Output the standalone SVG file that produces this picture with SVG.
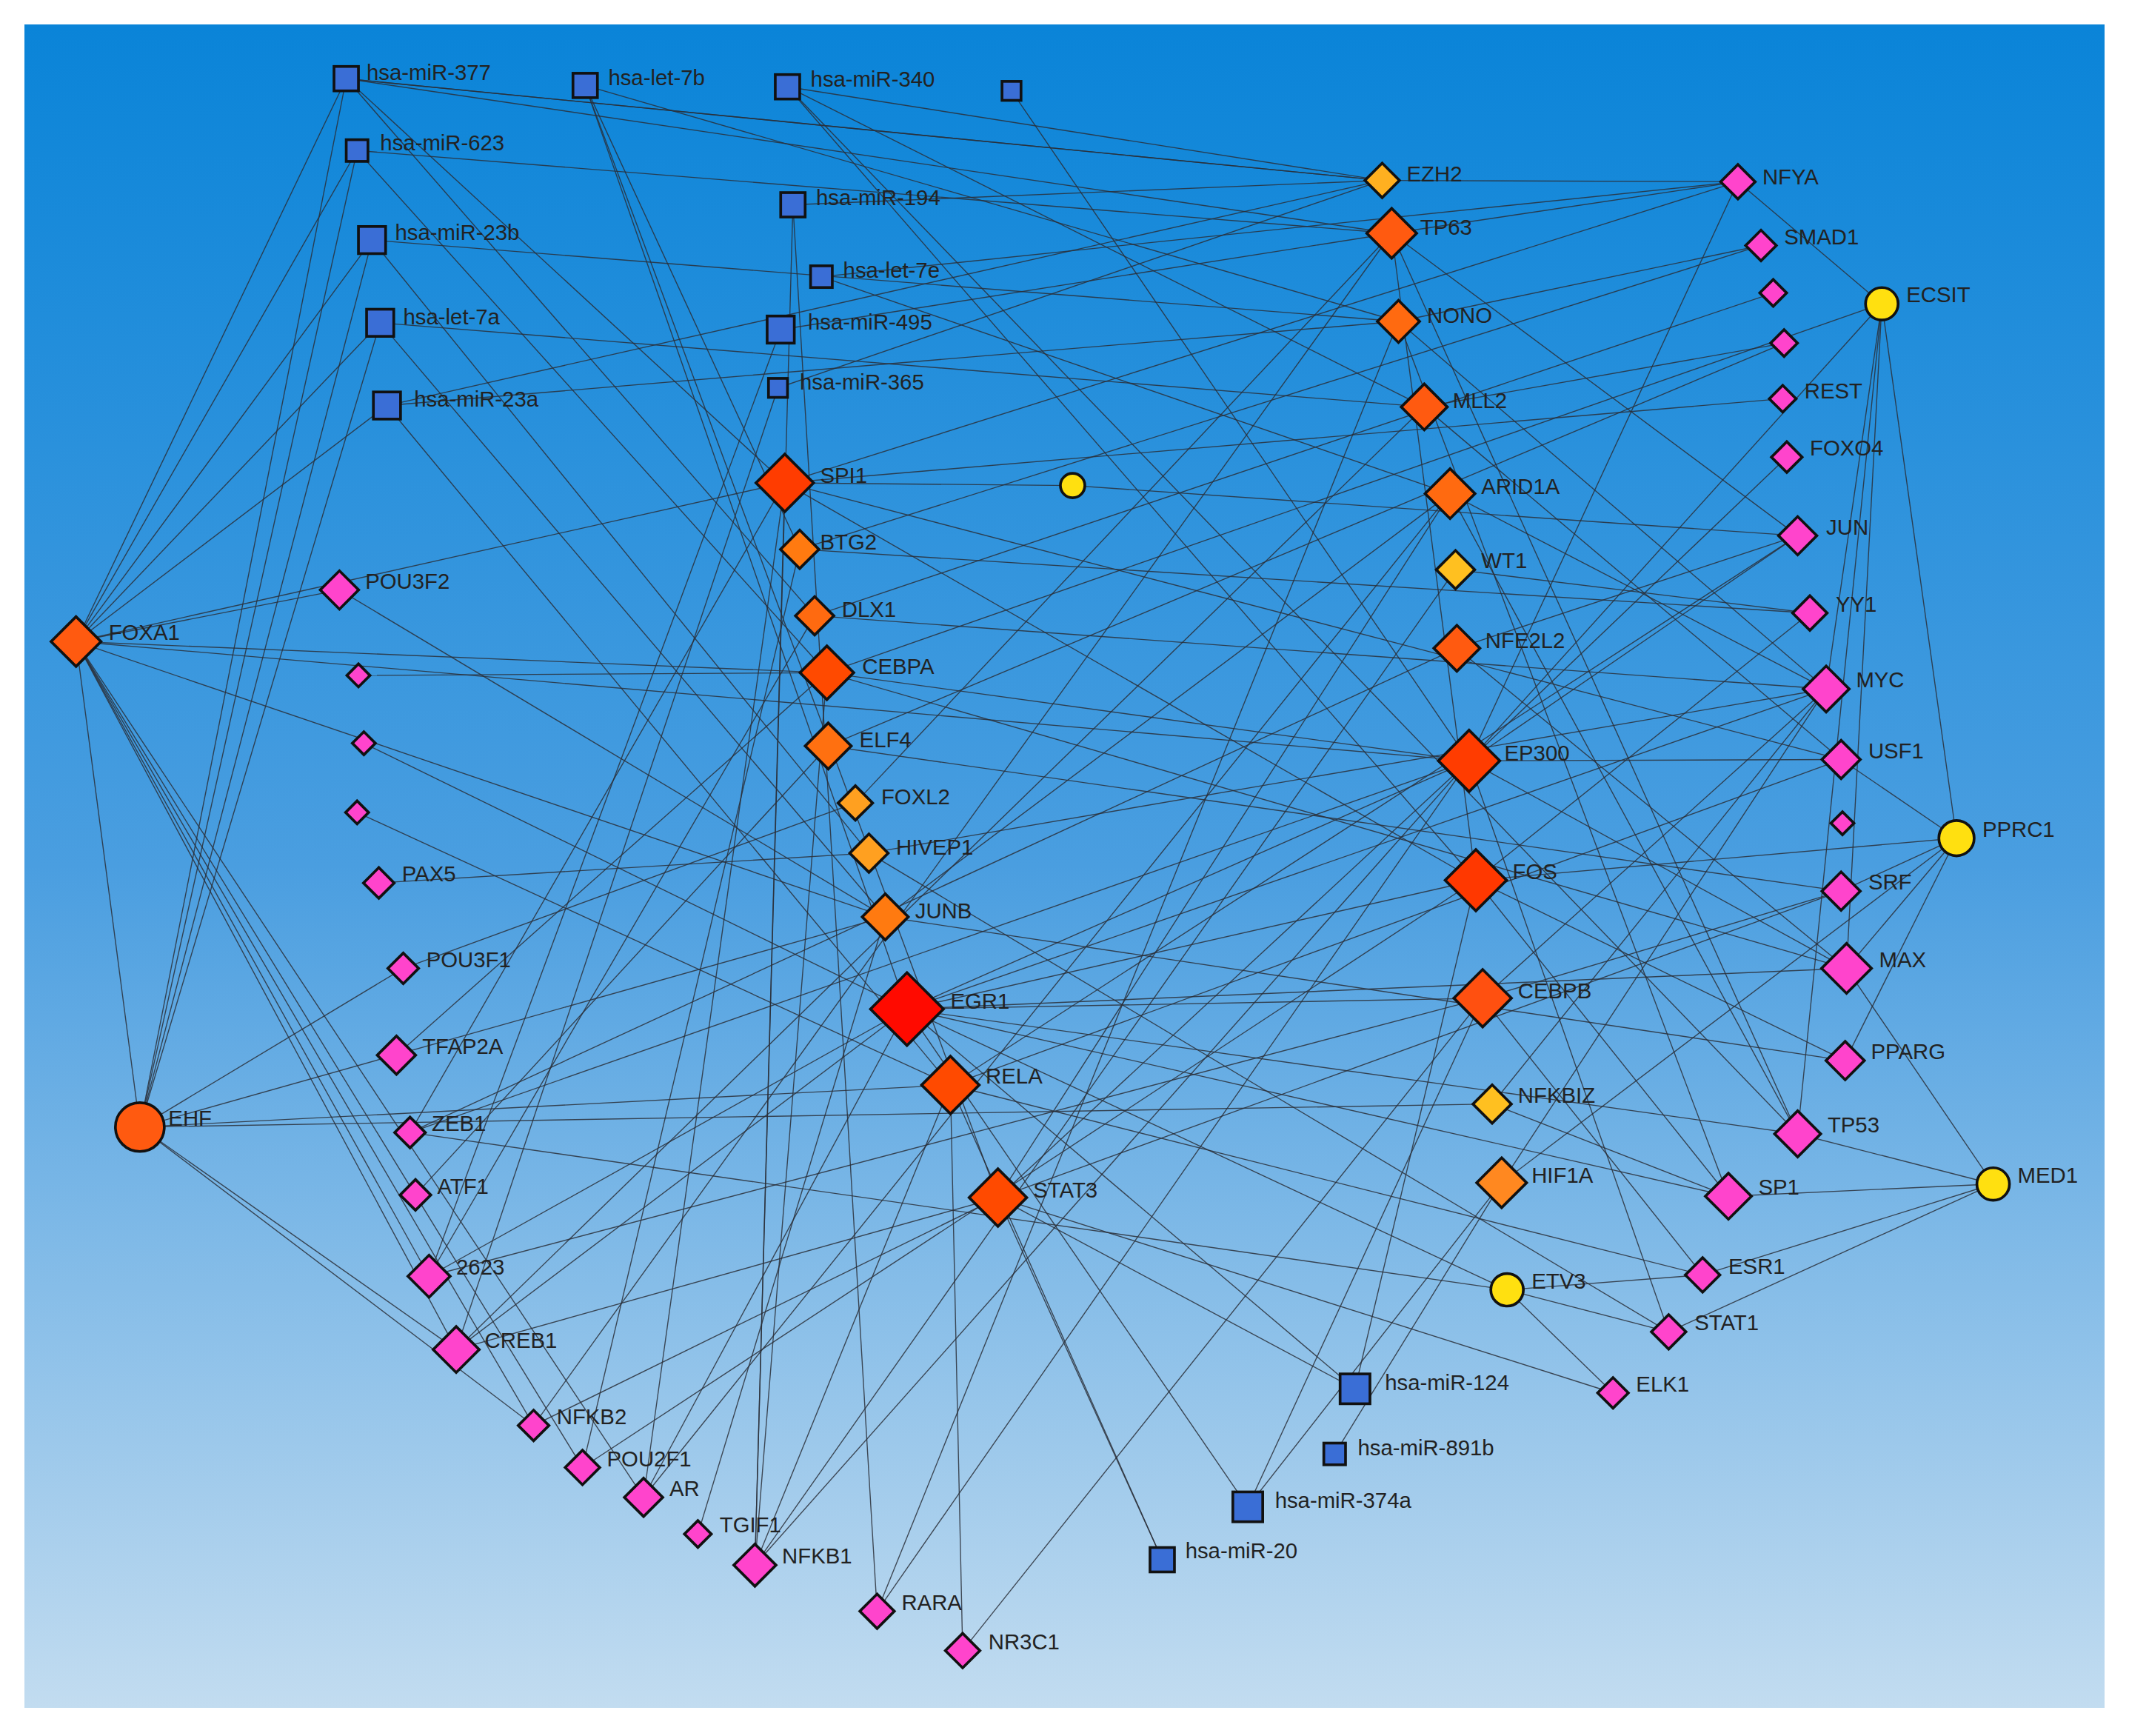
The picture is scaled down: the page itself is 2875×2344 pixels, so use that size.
<svg xmlns="http://www.w3.org/2000/svg" width="2875" height="2344" viewBox="0 0 2875 2344">
<defs>
<linearGradient id="bg" x1="0" y1="0" x2="0" y2="1"><stop offset="0" stop-color="#0a84d8"/><stop offset="0.5" stop-color="#4a9ee0"/><stop offset="1" stop-color="#c2dcf0"/></linearGradient>
<style>
.e line{stroke:#2a2f38;stroke-width:0.75;stroke-opacity:0.85}
.n rect,.n circle{stroke:#111;stroke-width:2}
.b{fill:#3a6ed6}.m{fill:#ff44cc}.y{fill:#ffe010}
text{font-family:"Liberation Sans",Arial,sans-serif;font-size:16px;fill:#222}
</style>
</defs>
<rect width="2875" height="2344" fill="#fff"/>
<rect x="33" y="33" width="2809" height="2273" fill="url(#bg)"/>
<g transform="scale(1.8335,1.8313)">
<g id="edges" class="e">
<line x1="56" y1="473" x2="255" y2="58"/><line x1="56" y1="473" x2="263" y2="111"/><line x1="56" y1="473" x2="274" y2="177"/><line x1="56" y1="473" x2="280" y2="238"/><line x1="56" y1="473" x2="285" y2="299"/><line x1="56" y1="473" x2="250" y2="435"/><line x1="56" y1="473" x2="609" y2="496"/><line x1="56" y1="473" x2="578" y2="356"/><line x1="56" y1="473" x2="336" y2="995"/><line x1="56" y1="473" x2="393" y2="1051"/><line x1="56" y1="473" x2="429" y2="1082"/><line x1="56" y1="473" x2="474" y2="1104"/><line x1="56" y1="473" x2="316" y2="941"/><line x1="56" y1="473" x2="103" y2="831"/><line x1="56" y1="473" x2="1082" y2="561"/><line x1="56" y1="473" x2="652" y2="676"/>
<line x1="103" y1="831" x2="255" y2="58"/><line x1="103" y1="831" x2="263" y2="111"/><line x1="103" y1="831" x2="274" y2="177"/><line x1="103" y1="831" x2="280" y2="238"/><line x1="103" y1="831" x2="297" y2="714"/><line x1="103" y1="831" x2="1099" y2="814"/><line x1="103" y1="831" x2="393" y2="1051"/><line x1="103" y1="831" x2="336" y2="995"/><line x1="103" y1="831" x2="700" y2="800"/><line x1="103" y1="831" x2="652" y2="676"/>
<line x1="255" y1="58" x2="600" y2="454"/><line x1="255" y1="58" x2="1025" y2="172"/><line x1="255" y1="58" x2="578" y2="356"/><line x1="255" y1="58" x2="1018" y2="133"/>
<line x1="431" y1="63" x2="1030" y2="237"/><line x1="431" y1="63" x2="668" y2="744"/><line x1="431" y1="63" x2="735" y2="883"/><line x1="431" y1="63" x2="589" y2="405"/>
<line x1="580" y1="64" x2="1049" y2="300"/><line x1="580" y1="64" x2="1018" y2="133"/><line x1="580" y1="64" x2="1087" y2="649"/><line x1="580" y1="64" x2="1324" y2="836"/>
<line x1="745" y1="67" x2="1082" y2="561"/>
<line x1="263" y1="111" x2="1025" y2="172"/><line x1="263" y1="111" x2="609" y2="496"/>
<line x1="584" y1="151" x2="1018" y2="133"/><line x1="584" y1="151" x2="646" y2="1188"/><line x1="584" y1="151" x2="556" y2="1154"/>
<line x1="274" y1="177" x2="1030" y2="237"/><line x1="274" y1="177" x2="640" y2="629"/>
<line x1="605" y1="204" x2="1280" y2="134"/><line x1="605" y1="204" x2="1068" y2="364"/>
<line x1="280" y1="238" x2="652" y2="676"/><line x1="280" y1="238" x2="1049" y2="300"/>
<line x1="575" y1="243" x2="1025" y2="172"/><line x1="575" y1="243" x2="316" y2="941"/>
<line x1="573" y1="286" x2="1018" y2="133"/><line x1="573" y1="286" x2="336" y2="995"/>
<line x1="285" y1="299" x2="700" y2="800"/><line x1="285" y1="299" x2="1030" y2="237"/><line x1="285" y1="299" x2="1018" y2="133"/>
<line x1="578" y1="356" x2="790" y2="358"/><line x1="578" y1="356" x2="1280" y2="134"/><line x1="578" y1="356" x2="474" y2="1104"/><line x1="578" y1="356" x2="556" y2="1154"/><line x1="578" y1="356" x2="302" y2="835"/><line x1="578" y1="356" x2="1356" y2="560"/><line x1="578" y1="356" x2="1087" y2="649"/><line x1="578" y1="356" x2="1313" y2="294"/>
<line x1="790" y1="358" x2="1324" y2="395"/>
<line x1="589" y1="405" x2="1297" y2="181"/><line x1="589" y1="405" x2="1333" y2="452"/><line x1="589" y1="405" x2="429" y2="1082"/>
<line x1="600" y1="454" x2="1306" y2="216"/><line x1="600" y1="454" x2="316" y2="941"/><line x1="600" y1="454" x2="1345" y2="508"/>
<line x1="609" y1="496" x2="1386" y2="224"/><line x1="609" y1="496" x2="1360" y2="714"/><line x1="609" y1="496" x2="264" y2="498"/><line x1="609" y1="496" x2="292" y2="778"/><line x1="609" y1="496" x2="556" y2="1154"/><line x1="609" y1="496" x2="1082" y2="561"/>
<line x1="610" y1="550" x2="1314" y2="253"/><line x1="610" y1="550" x2="306" y2="881"/><line x1="610" y1="550" x2="1356" y2="657"/>
<line x1="630" y1="592" x2="1025" y2="172"/><line x1="630" y1="592" x2="297" y2="714"/>
<line x1="640" y1="629" x2="279" y2="651"/><line x1="640" y1="629" x2="1345" y2="508"/><line x1="640" y1="629" x2="1229" y2="982"/>
<line x1="652" y1="676" x2="1068" y2="364"/><line x1="652" y1="676" x2="250" y2="435"/><line x1="652" y1="676" x2="1359" y2="782"/><line x1="652" y1="676" x2="514" y2="1131"/>
<line x1="668" y1="744" x2="268" y2="548"/><line x1="668" y1="744" x2="1082" y2="561"/><line x1="668" y1="744" x2="1087" y2="649"/><line x1="668" y1="744" x2="1092" y2="736"/><line x1="668" y1="744" x2="1345" y2="508"/><line x1="668" y1="744" x2="1360" y2="714"/><line x1="668" y1="744" x2="1273" y2="882"/><line x1="668" y1="744" x2="1324" y2="836"/><line x1="668" y1="744" x2="316" y2="941"/><line x1="668" y1="744" x2="336" y2="995"/><line x1="668" y1="744" x2="474" y2="1104"/><line x1="668" y1="744" x2="998" y2="1024"/><line x1="668" y1="744" x2="919" y2="1111"/><line x1="668" y1="744" x2="1110" y2="951"/>
<line x1="700" y1="800" x2="263" y2="599"/><line x1="700" y1="800" x2="1324" y2="395"/><line x1="700" y1="800" x2="1356" y2="560"/><line x1="700" y1="800" x2="556" y2="1154"/><line x1="700" y1="800" x2="1254" y2="940"/><line x1="700" y1="800" x2="856" y2="1150"/><line x1="700" y1="800" x2="709" y2="1217"/>
<line x1="735" y1="883" x2="1068" y2="364"/><line x1="735" y1="883" x2="1356" y2="657"/><line x1="735" y1="883" x2="1188" y2="1027"/><line x1="735" y1="883" x2="393" y2="1051"/><line x1="735" y1="883" x2="336" y2="995"/><line x1="735" y1="883" x2="856" y2="1150"/><line x1="735" y1="883" x2="1082" y2="561"/><line x1="735" y1="883" x2="998" y2="1024"/>
<line x1="1082" y1="561" x2="1386" y2="224"/><line x1="1082" y1="561" x2="1316" y2="337"/><line x1="1082" y1="561" x2="1356" y2="560"/><line x1="1082" y1="561" x2="1360" y2="714"/><line x1="1082" y1="561" x2="302" y2="835"/><line x1="1082" y1="561" x2="556" y2="1154"/><line x1="1082" y1="561" x2="646" y2="1188"/><line x1="1082" y1="561" x2="1229" y2="982"/><line x1="1082" y1="561" x2="1324" y2="395"/><line x1="1082" y1="561" x2="1280" y2="134"/>
<line x1="1087" y1="649" x2="1333" y2="452"/><line x1="1087" y1="649" x2="1359" y2="782"/><line x1="1087" y1="649" x2="1273" y2="882"/><line x1="1087" y1="649" x2="998" y2="1024"/><line x1="1087" y1="649" x2="429" y2="1082"/><line x1="1087" y1="649" x2="1441" y2="618"/>
<line x1="1092" y1="736" x2="1345" y2="508"/><line x1="1092" y1="736" x2="1356" y2="657"/><line x1="1092" y1="736" x2="1254" y2="940"/><line x1="1092" y1="736" x2="919" y2="1111"/><line x1="1092" y1="736" x2="709" y2="1217"/><line x1="1092" y1="736" x2="316" y2="941"/>
<line x1="1025" y1="172" x2="1280" y2="134"/><line x1="1025" y1="172" x2="1324" y2="395"/><line x1="1025" y1="172" x2="1324" y2="836"/><line x1="1025" y1="172" x2="1087" y2="649"/><line x1="1025" y1="172" x2="393" y2="1051"/>
<line x1="1030" y1="237" x2="1297" y2="181"/><line x1="1030" y1="237" x2="1345" y2="508"/><line x1="1030" y1="237" x2="1273" y2="882"/><line x1="1030" y1="237" x2="646" y2="1188"/>
<line x1="1049" y1="300" x2="1314" y2="253"/><line x1="1049" y1="300" x2="1356" y2="560"/><line x1="1049" y1="300" x2="336" y2="995"/>
<line x1="1068" y1="364" x2="1345" y2="508"/><line x1="1068" y1="364" x2="1324" y2="836"/><line x1="1068" y1="364" x2="474" y2="1104"/>
<line x1="1073" y1="478" x2="1324" y2="395"/><line x1="1073" y1="478" x2="1360" y2="714"/><line x1="1073" y1="478" x2="302" y2="835"/>
<line x1="1072" y1="420" x2="1333" y2="452"/><line x1="1072" y1="420" x2="556" y2="1154"/>
<line x1="1099" y1="814" x2="1345" y2="508"/><line x1="1099" y1="814" x2="1273" y2="882"/>
<line x1="1106" y1="872" x2="1441" y2="618"/><line x1="1106" y1="872" x2="919" y2="1111"/><line x1="1106" y1="872" x2="1345" y2="508"/><line x1="1106" y1="872" x2="983" y2="1072"/>
<line x1="1386" y1="224" x2="1280" y2="134"/><line x1="1386" y1="224" x2="1345" y2="508"/><line x1="1386" y1="224" x2="1360" y2="714"/><line x1="1386" y1="224" x2="1324" y2="836"/><line x1="1386" y1="224" x2="1441" y2="618"/>
<line x1="1441" y1="618" x2="1356" y2="560"/><line x1="1441" y1="618" x2="1360" y2="714"/><line x1="1441" y1="618" x2="1359" y2="782"/><line x1="1441" y1="618" x2="1356" y2="657"/>
<line x1="1468" y1="873" x2="1273" y2="882"/><line x1="1468" y1="873" x2="1324" y2="836"/><line x1="1468" y1="873" x2="1360" y2="714"/><line x1="1468" y1="873" x2="1254" y2="940"/><line x1="1468" y1="873" x2="1229" y2="982"/>
<line x1="1110" y1="951" x2="1229" y2="982"/><line x1="1110" y1="951" x2="1188" y2="1027"/><line x1="1110" y1="951" x2="302" y2="835"/><line x1="1110" y1="951" x2="1254" y2="940"/>
<line x1="1018" y1="133" x2="1280" y2="134"/><line x1="1018" y1="133" x2="255" y2="58"/>
</g>
<g class="n">
<g id="mir377"><rect x="246" y="49" width="18" height="18" class="b"/><text x="270" y="59">hsa-miR-377</text></g>
<g id="let7b"><rect x="422" y="54" width="18" height="18" class="b"/><text x="448" y="63">hsa-let-7b</text></g>
<g id="mir340"><rect x="571" y="55" width="18" height="18" class="b"/><text x="597" y="64">hsa-miR-340</text></g>
<g id="sq1"><rect x="738" y="60" width="14" height="14" class="b"/></g>
<g id="mir623"><rect x="255" y="103" width="16" height="16" class="b"/><text x="280" y="111">hsa-miR-623</text></g>
<g id="mir194"><rect x="575" y="142" width="18" height="18" class="b"/><text x="601" y="151">hsa-miR-194</text></g>
<g id="mir23b"><rect x="264" y="167" width="20" height="20" class="b"/><text x="291" y="177">hsa-miR-23b</text></g>
<g id="let7e"><rect x="597" y="196" width="16" height="16" class="b"/><text x="621" y="205">hsa-let-7e</text></g>
<g id="let7a"><rect x="270" y="228" width="20" height="20" class="b"/><text x="297" y="239">hsa-let-7a</text></g>
<g id="mir495"><rect x="565" y="233" width="20" height="20" class="b"/><text x="595" y="243">hsa-miR-495</text></g>
<g id="mir365"><rect x="566" y="279" width="14" height="14" class="b"/><text x="589" y="287">hsa-miR-365</text></g>
<g id="mir23a"><rect x="275" y="289" width="20" height="20" class="b"/><text x="305" y="300">hsa-miR-23a</text></g>
<g id="mir124"><rect x="987" y="1013" width="22" height="22" class="b"/><text x="1020" y="1025">hsa-miR-124</text></g>
<g id="mir891b"><rect x="975" y="1064" width="16" height="16" class="b"/><text x="1000" y="1073">hsa-miR-891b</text></g>
<g id="mir374a"><rect x="908" y="1100" width="22" height="22" class="b"/><text x="939" y="1112">hsa-miR-374a</text></g>
<g id="mir20"><rect x="847" y="1141" width="18" height="18" class="b"/><text x="873" y="1149">hsa-miR-20</text></g>

<g id="EZH2"><rect x="1009" y="124" width="18" height="18" fill="#ffb020" transform="rotate(45 1018 133)"/><text x="1036" y="134">EZH2</text></g>
<g id="TP63"><rect x="1012" y="159" width="26" height="26" fill="#ff5a10" transform="rotate(45 1025 172)"/><text x="1046" y="173">TP63</text></g>
<g id="NONO"><rect x="1019" y="226" width="22" height="22" fill="#ff6a10" transform="rotate(45 1030 237)"/><text x="1051" y="238">NONO</text></g>
<g id="MLL2"><rect x="1037" y="288" width="24" height="24" fill="#ff5a10" transform="rotate(45 1049 300)"/><text x="1070" y="301">MLL2</text></g>
<g id="ARID1A"><rect x="1055" y="351" width="26" height="26" fill="#ff6a10" transform="rotate(45 1068 364)"/><text x="1091" y="364">ARID1A</text></g>
<g id="WT1"><rect x="1062" y="410" width="20" height="20" fill="#ffc020" transform="rotate(45 1072 420)"/><text x="1091" y="419">WT1</text></g>
<g id="NFE2L2"><rect x="1061" y="466" width="24" height="24" fill="#ff5a10" transform="rotate(45 1073 478)"/><text x="1094" y="478">NFE2L2</text></g>
<g id="EP300"><rect x="1066" y="545" width="32" height="32" fill="#ff3c00" transform="rotate(45 1082 561)"/><text x="1108" y="561">EP300</text></g>
<g id="FOS"><rect x="1071" y="633" width="32" height="32" fill="#ff3800" transform="rotate(45 1087 649)"/><text x="1114" y="648">FOS</text></g>
<g id="CEBPB"><rect x="1077" y="721" width="30" height="30" fill="#ff5010" transform="rotate(45 1092 736)"/><text x="1118" y="736">CEBPB</text></g>
<g id="NFKBIZ"><rect x="1089" y="804" width="20" height="20" fill="#ffc020" transform="rotate(45 1099 814)"/><text x="1118" y="813">NFKBIZ</text></g>
<g id="HIF1A"><rect x="1093" y="859" width="26" height="26" fill="#ff8820" transform="rotate(45 1106 872)"/><text x="1128" y="872">HIF1A</text></g>
<g id="SPI1"><rect x="563" y="341" width="30" height="30" fill="#ff3c00" transform="rotate(45 578 356)"/><text x="604" y="356">SPI1</text></g>
<g id="BTG2"><rect x="579" y="395" width="20" height="20" fill="#ff7a10" transform="rotate(45 589 405)"/><text x="604" y="405">BTG2</text></g>
<g id="DLX1"><rect x="590" y="444" width="20" height="20" fill="#ff6a10" transform="rotate(45 600 454)"/><text x="620" y="455">DLX1</text></g>
<g id="CEBPA"><rect x="595" y="482" width="28" height="28" fill="#ff4a00" transform="rotate(45 609 496)"/><text x="635" y="497">CEBPA</text></g>
<g id="ELF4"><rect x="598" y="538" width="24" height="24" fill="#ff7010" transform="rotate(45 610 550)"/><text x="633" y="551">ELF4</text></g>
<g id="FOXL2"><rect x="621" y="583" width="18" height="18" fill="#ffa020" transform="rotate(45 630 592)"/><text x="649" y="593">FOXL2</text></g>
<g id="HIVEP1"><rect x="630" y="619" width="20" height="20" fill="#ffa020" transform="rotate(45 640 629)"/><text x="660" y="630">HIVEP1</text></g>
<g id="JUNB"><rect x="640" y="664" width="24" height="24" fill="#ff7a10" transform="rotate(45 652 676)"/><text x="674" y="677">JUNB</text></g>
<g id="EGR1"><rect x="649" y="725" width="38" height="38" fill="#ff0a00" transform="rotate(45 668 744)"/><text x="700" y="744">EGR1</text></g>
<g id="RELA"><rect x="685" y="785" width="30" height="30" fill="#ff4a00" transform="rotate(45 700 800)"/><text x="726" y="799">RELA</text></g>
<g id="STAT3"><rect x="720" y="868" width="30" height="30" fill="#ff4a00" transform="rotate(45 735 883)"/><text x="761" y="883">STAT3</text></g>
<g id="FOXA1"><rect x="43" y="460" width="26" height="26" fill="#ff5a10" transform="rotate(45 56 473)"/><text x="80" y="472">FOXA1</text></g>

<g id="NFYA"><rect x="1271" y="125" width="18" height="18" class="m" transform="rotate(45 1280 134)"/><text x="1298" y="136">NFYA</text></g>
<g id="SMAD1"><rect x="1289" y="173" width="16" height="16" class="m" transform="rotate(45 1297 181)"/><text x="1314" y="180">SMAD1</text></g>
<g id="m1"><rect x="1299" y="209" width="14" height="14" class="m" transform="rotate(45 1306 216)"/></g>
<g id="m2"><rect x="1307" y="246" width="14" height="14" class="m" transform="rotate(45 1314 253)"/></g>
<g id="REST"><rect x="1306" y="287" width="14" height="14" class="m" transform="rotate(45 1313 294)"/><text x="1329" y="294">REST</text></g>
<g id="FOXO4"><rect x="1308" y="329" width="16" height="16" class="m" transform="rotate(45 1316 337)"/><text x="1333" y="336">FOXO4</text></g>
<g id="JUN"><rect x="1314" y="385" width="20" height="20" class="m" transform="rotate(45 1324 395)"/><text x="1345" y="394">JUN</text></g>
<g id="YY1"><rect x="1324" y="443" width="18" height="18" class="m" transform="rotate(45 1333 452)"/><text x="1352" y="451">YY1</text></g>
<g id="MYC"><rect x="1333" y="496" width="24" height="24" class="m" transform="rotate(45 1345 508)"/><text x="1367" y="507">MYC</text></g>
<g id="USF1"><rect x="1346" y="550" width="20" height="20" class="m" transform="rotate(45 1356 560)"/><text x="1376" y="559">USF1</text></g>
<g id="m3"><rect x="1351" y="601" width="12" height="12" class="m" transform="rotate(45 1357 607)"/></g>
<g id="SRF"><rect x="1346" y="647" width="20" height="20" class="m" transform="rotate(45 1356 657)"/><text x="1376" y="656">SRF</text></g>
<g id="MAX"><rect x="1347" y="701" width="26" height="26" class="m" transform="rotate(45 1360 714)"/><text x="1384" y="713">MAX</text></g>
<g id="PPARG"><rect x="1349" y="772" width="20" height="20" class="m" transform="rotate(45 1359 782)"/><text x="1378" y="781">PPARG</text></g>
<g id="TP53"><rect x="1312" y="824" width="24" height="24" class="m" transform="rotate(45 1324 836)"/><text x="1346" y="835">TP53</text></g>
<g id="SP1"><rect x="1261" y="870" width="24" height="24" class="m" transform="rotate(45 1273 882)"/><text x="1295" y="881">SP1</text></g>
<g id="ESR1"><rect x="1245" y="931" width="18" height="18" class="m" transform="rotate(45 1254 940)"/><text x="1273" y="939">ESR1</text></g>
<g id="STAT1"><rect x="1220" y="973" width="18" height="18" class="m" transform="rotate(45 1229 982)"/><text x="1248" y="981">STAT1</text></g>
<g id="ELK1"><rect x="1180" y="1019" width="16" height="16" class="m" transform="rotate(45 1188 1027)"/><text x="1205" y="1026">ELK1</text></g>
<g id="POU3F2"><rect x="240" y="425" width="20" height="20" class="m" transform="rotate(45 250 435)"/><text x="269" y="434">POU3F2</text></g>
<g id="m4"><rect x="258" y="492" width="12" height="12" class="m" transform="rotate(45 264 498)"/></g>
<g id="m5"><rect x="262" y="542" width="12" height="12" class="m" transform="rotate(45 268 548)"/></g>
<g id="m6"><rect x="257" y="593" width="12" height="12" class="m" transform="rotate(45 263 599)"/></g>
<g id="PAX5"><rect x="271" y="643" width="16" height="16" class="m" transform="rotate(45 279 651)"/><text x="296" y="650">PAX5</text></g>
<g id="POU3F1"><rect x="289" y="706" width="16" height="16" class="m" transform="rotate(45 297 714)"/><text x="314" y="713">POU3F1</text></g>
<g id="TFAP2A"><rect x="282" y="768" width="20" height="20" class="m" transform="rotate(45 292 778)"/><text x="311" y="777">TFAP2A</text></g>
<g id="ZEB1"><rect x="294" y="827" width="16" height="16" class="m" transform="rotate(45 302 835)"/><text x="318" y="834">ZEB1</text></g>
<g id="ATF1"><rect x="298" y="873" width="16" height="16" class="m" transform="rotate(45 306 881)"/><text x="322" y="880">ATF1</text></g>
<g id="n2623"><rect x="305" y="930" width="22" height="22" class="m" transform="rotate(45 316 941)"/><text x="336" y="940">2623</text></g>
<g id="CREB1"><rect x="324" y="983" width="24" height="24" class="m" transform="rotate(45 336 995)"/><text x="357" y="994">CREB1</text></g>
<g id="NFKB2"><rect x="385" y="1043" width="16" height="16" class="m" transform="rotate(45 393 1051)"/><text x="410" y="1050">NFKB2</text></g>
<g id="POU2F1"><rect x="420" y="1073" width="18" height="18" class="m" transform="rotate(45 429 1082)"/><text x="447" y="1081">POU2F1</text></g>
<g id="AR"><rect x="464" y="1094" width="20" height="20" class="m" transform="rotate(45 474 1104)"/><text x="493" y="1103">AR</text></g>
<g id="TGIF1"><rect x="507" y="1124" width="14" height="14" class="m" transform="rotate(45 514 1131)"/><text x="530" y="1130">TGIF1</text></g>
<g id="NFKB1"><rect x="545" y="1143" width="22" height="22" class="m" transform="rotate(45 556 1154)"/><text x="576" y="1153">NFKB1</text></g>
<g id="RARA"><rect x="637" y="1179" width="18" height="18" class="m" transform="rotate(45 646 1188)"/><text x="664" y="1187">RARA</text></g>
<g id="NR3C1"><rect x="700" y="1208" width="18" height="18" class="m" transform="rotate(45 709 1217)"/><text x="728" y="1216">NR3C1</text></g>

<g id="EHF"><circle cx="103" cy="831" r="18" fill="#ff5a10"/><text x="124" y="830">EHF</text></g>
<g id="ECSIT"><circle cx="1386" cy="224" r="12" class="y"/><text x="1404" y="223">ECSIT</text></g>
<g id="PPRC1"><circle cx="1441" cy="618" r="13" class="y"/><text x="1460" y="617">PPRC1</text></g>
<g id="MED1"><circle cx="1468" cy="873" r="12" class="y"/><text x="1486" y="872">MED1</text></g>
<g id="ETV3"><circle cx="1110" cy="951" r="12" class="y"/><text x="1128" y="950">ETV3</text></g>
<g id="c1"><circle cx="790" cy="358" r="9" class="y"/></g>
</g>
</g>
</svg>
